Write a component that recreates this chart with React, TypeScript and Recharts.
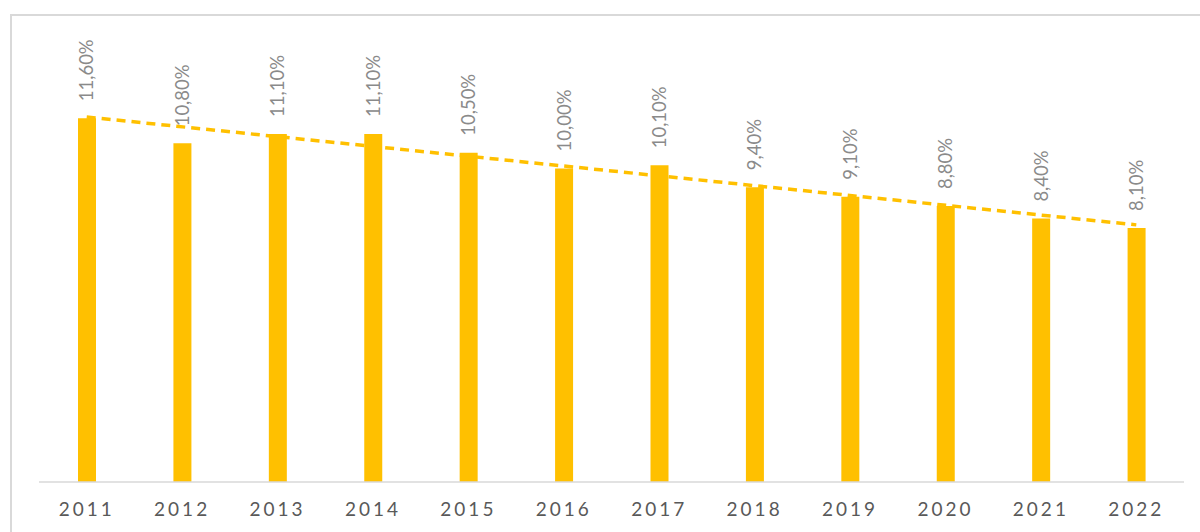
import { ComposedChart, Bar, Line, XAxis, YAxis, LabelList } from 'recharts';

const years = ['2011', '2012', '2013', '2014', '2015', '2016', '2017', '2018', '2019', '2020', '2021', '2022'];
const rates = [11.6, 10.8, 11.1, 11.1, 10.5, 10.0, 10.1, 9.4, 9.1, 8.8, 8.4, 8.1];
// trend line end points
const trendStart = 11.64;
const trendEnd = 8.2;

const data = years.map((year, i) => ({
  year,
  rate: rates[i],
  trend: i === 0 ? trendStart : i === years.length - 1 ? trendEnd : null,
}));

const YELLOW = '#FFC000';
const FONT = 'Lato, "Open Sans", sans-serif';

const fmt = (v: number) => v.toFixed(2).replace('.', ',') + '%';

const RotatedLabel = (props: any) => {
  const { x, y, width, value } = props;
  const cx = Number(x) + Number(width) / 2 + 6.5;
  const ty = Number(y) - 17;
  return (
    <text
      x={cx}
      y={ty}
      transform={`rotate(-90 ${cx} ${ty})`}
      textAnchor="start"
      fill="#8a8a8a"
      fontSize={18.5}
      fontFamily={FONT}
    >
      {fmt(Number(value))}
    </text>
  );
};

const YearTick = ({ x, y, payload }: any) => (
  <text
    x={x}
    y={Number(y) + 26}
    textAnchor="middle"
    fill="#595959"
    fontSize={19}
    fontFamily={FONT}
    letterSpacing={3}
  >
    {payload.value}
  </text>
);

export default function App() {
  return (
    <div style={{ position: 'absolute', left: 0, top: 0, width: 1200, height: 532, overflow: 'hidden', background: '#fff' }}>
      <div
        style={{
          position: 'absolute', left: 10, top: 14, width: 1300, height: 600,
          border: '2px solid #d9d9d9', boxSizing: 'border-box',
        }}
      />
      <div style={{ position: 'absolute', left: 0, top: 0 }}>
        <ComposedChart width={1200} height={532} data={data} margin={{ top: 43, right: 16, bottom: 0, left: 39 }}>
          <XAxis
            dataKey="year"
            height={50}
            tickLine={false}
            axisLine={{ stroke: '#d9d9d9', strokeWidth: 1.5 }}
            tick={<YearTick />}
            interval={0}
          />
          <YAxis hide domain={[0, 14]} />
          <Bar dataKey="rate" fill={YELLOW} barSize={18} isAnimationActive={false}>
            <LabelList dataKey="rate" content={<RotatedLabel />} />
          </Bar>
          <Line
            dataKey="trend"
            stroke={YELLOW}
            strokeWidth={3.5}
            strokeDasharray="9 6"
            dot={false}
            activeDot={false}
            connectNulls
            isAnimationActive={false}
          />
        </ComposedChart>
      </div>
    </div>
  );
}
